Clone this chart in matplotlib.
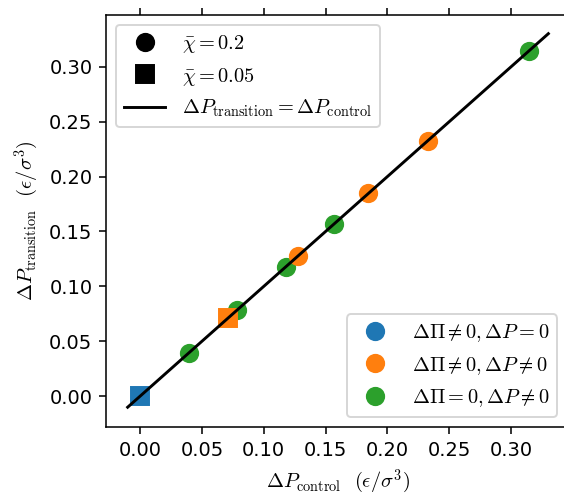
import matplotlib
matplotlib.use("Agg")
import matplotlib.pyplot as plt
from matplotlib.lines import Line2D

plt.rcParams['mathtext.fontset'] = 'cm'
plt.rcParams['font.size'] = 10

# Data: (x = dP_control, y = dP_transition)
blue_sq_x = [0.0]
blue_sq_y = [0.0]
orange_sq_x = [0.0709]
orange_sq_y = [0.0709]
orange_c_x = [0.1278, 0.1846, 0.2326]
orange_c_y = [0.1276, 0.1852, 0.2321]
green_c_x = [0.0393, 0.0785, 0.1178, 0.1571, 0.3141]
green_c_y = [0.0393, 0.0788, 0.1179, 0.1567, 0.3139]
line_x = [-0.01, 0.33]

dpi = 140
fig = plt.figure(figsize=(564/dpi, 497/dpi), dpi=dpi)
ax = fig.add_axes([106/564, 70/497, (570-106)/564, (427-15)/497])

c_blue, c_orange, c_green = 'C0', 'C1', 'C2'
ms = 8.9
ax.plot(green_c_x, green_c_y, 'o', color=c_green, ms=ms, zorder=2)
ax.plot(orange_c_x, orange_c_y, 'o', color=c_orange, ms=ms, zorder=2)
ax.plot(orange_sq_x, orange_sq_y, 's', color=c_orange, ms=ms, zorder=2)
ax.plot(blue_sq_x, blue_sq_y, 's', color=c_blue, ms=ms, zorder=2)
ax.plot(line_x, line_x, '-', color='black', lw=1.5, zorder=3)

ax.set_xlim(-0.0275, 0.3475)
ax.set_ylim(-0.028, 0.347)
ax.set_xticks([0.0, 0.05, 0.10, 0.15, 0.20, 0.25, 0.30])
ax.set_yticks([0.0, 0.05, 0.10, 0.15, 0.20, 0.25, 0.30])
ax.tick_params(top=True, right=True)

ax.set_xlabel(r'$\Delta P_{\rm control}$  $(\epsilon/\sigma^3)$', fontsize=10.5)
ax.set_ylabel(r'$\Delta P_{\rm transition}$  $(\epsilon/\sigma^3)$', fontsize=10.5)

h1 = [Line2D([], [], marker='o', ls='none', color='black', ms=ms),
      Line2D([], [], marker='s', ls='none', color='black', ms=ms),
      Line2D([], [], color='black', lw=1.5)]
l1 = [r'$\bar{\chi} = 0.2$', r'$\bar{\chi} = 0.05$',
      r'$\Delta P_{\rm transition} = \Delta P_{\rm control}$']
leg1 = ax.legend(h1, l1, loc='upper left', fontsize=10.5)
ax.add_artist(leg1)

h2 = [Line2D([], [], marker='o', ls='none', color=c, ms=ms) for c in (c_blue, c_orange, c_green)]
l2 = [r'$\Delta\Pi \neq 0, \Delta P = 0$', r'$\Delta\Pi \neq 0, \Delta P \neq 0$',
      r'$\Delta\Pi = 0, \Delta P \neq 0$']
ax.legend(h2, l2, loc='lower right', bbox_to_anchor=(0.995, 0.0), fontsize=10.5)

fig.savefig('out.png', dpi=dpi)
